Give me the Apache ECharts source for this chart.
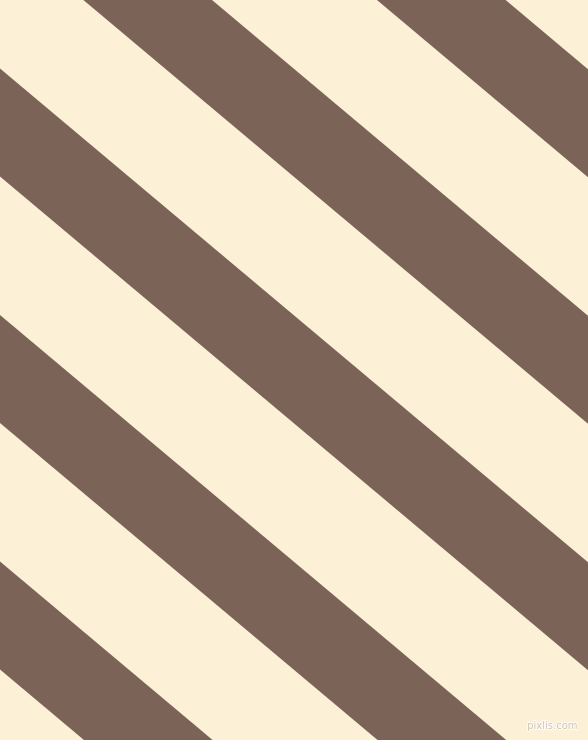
<!DOCTYPE html>
<html>
<head>
<meta charset="utf-8">
<script src="https://cdn.jsdelivr.net/npm/echarts@6/dist/echarts.min.js"></script>
<style>
html,body{margin:0;padding:0;background:#FCF0D7;}
#c{width:588px;height:740px;}
</style>
</head>
<body>
<div id="c"></div>
<script>
// Stripe data: y-intercept (at x = 0) of each stripe's upper edge, in pixel-axis units
var stripeOffsets = [-424.5, -178, 68.5, 315, 561.5];
var stripeWidth = 108;     // vertical thickness of each stripe
var stripeSlope = 0.8396;  // dy/dx of stripe edges
var xExtent = [0, 588];
var yExtent = [0, 740];
var watermark = 'pixlis.com';

var chart = echarts.init(document.getElementById('c'), null, {renderer: 'canvas'});
var data = stripeOffsets.map(function (b) { return [b, stripeWidth]; });

chart.setOption({
  backgroundColor: '#FCF0D7',
  animation: false,
  grid: {left: 0, right: 0, top: 0, bottom: 0},
  xAxis: {type: 'value', min: xExtent[0], max: xExtent[1], show: false},
  yAxis: {type: 'value', min: yExtent[0], max: yExtent[1], inverse: true, show: false},
  title: {
    text: watermark,
    right: 4,
    bottom: 2,
    textStyle: {
      fontFamily: 'DejaVu Sans',
      fontSize: 10,
      fontWeight: 'normal',
      color: '#CFC6B0',
      textBorderColor: '#FFFFFF',
      textBorderWidth: 1.5
    }
  },
  series: [{
    type: 'custom',
    silent: true,
    data: data,
    renderItem: function (params, api) {
      var b = api.value(0), w = api.value(1);
      var x0 = xExtent[0], x1 = xExtent[1];
      var pts = [
        api.coord([x0, b + stripeSlope * x0]),
        api.coord([x1, b + stripeSlope * x1]),
        api.coord([x1, b + w + stripeSlope * x1]),
        api.coord([x0, b + w + stripeSlope * x0])
      ];
      return {
        type: 'polygon',
        shape: {points: pts},
        style: {fill: '#7B6358'}
      };
    }
  }]
});
</script>
</body>
</html>
